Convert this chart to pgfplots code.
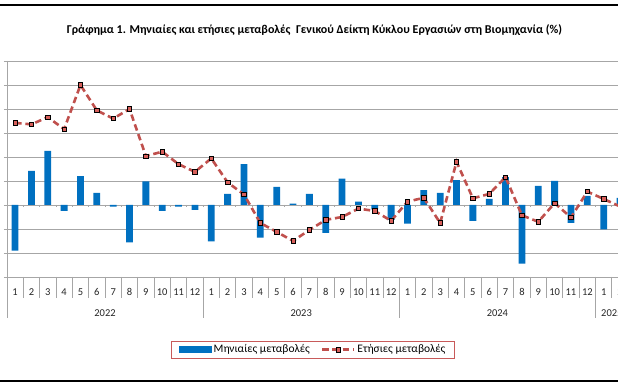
\documentclass[border=0pt]{standalone}
\usepackage{fontspec}
\setmainfont{Carlito}
\usepackage{pgfplots}
\pgfplotsset{compat=1.18}
\definecolor{barblue}{RGB}{0,112,192}
\definecolor{linered}{RGB}{192,80,77}
\definecolor{mkred}{RGB}{215,95,90}
\definecolor{gridgray}{RGB}{166,166,166}
\definecolor{legred}{RGB}{200,90,90}
\pgfplotsset{
  mybarlegend/.style={legend image code/.code={\fill[barblue] (0pt,-3.3pt) rectangle (33pt,3.3pt);}},
  mylinelegend/.style={legend image code/.code={\draw[##1, mark repeat=2, mark phase=2] plot coordinates {(0pt,0pt) (16pt,0pt) (32pt,0pt)};}},
}
\begin{document}
\begin{tikzpicture}[x=1pt,y=1pt]
\useasboundingbox (0,0) rectangle (618,387);
\clip (0,0) rectangle (618,387);
\fill[white] (0,0) rectangle (618,387);
\draw[black, line width=1.4pt] (0,382) -- (618,382);
\draw[black, line width=1.4pt] (0,6) -- (618,6);
\node[font=\bfseries\fontsize{12}{14}\selectfont] at (314.5,357.4) {Γράφημα 1. Μηνιαίες και ετήσιες μεταβολές~~Γενικού Δείκτη Κύκλου Εργασιών στη Βιομηχανία (\%)};
\begin{axis}[
  at={(6.9pt,110pt)}, anchor=south west,
  scale only axis, width=621.3pt, height=216pt,
  xmin=-0.5, xmax=37.5, ymin=-15, ymax=30,
  axis line style={draw=none},
  ytick={-15,-10,...,30}, yticklabels={},
  ytick pos=left, ytick style={gridgray, line width=0.8pt},
  tick align=outside, major tick length=3pt,
  ymajorgrids, grid style={gridgray, line width=0.8pt},
  xtick={0,...,37},
  xticklabels={1,2,3,4,5,6,7,8,9,10,11,12,1,2,3,4,5,6,7,8,9,10,11,12,1,2,3,4,5,6,7,8,9,10,11,12,1,2},
  xtick style={draw=none},
  xticklabel style={font=\fontsize{10.5}{12}\selectfont, anchor=center, text=black!85},
  xticklabel shift=12pt,
  clip=false,
  legend style={at={(0.4927,-0.3366)}, anchor=center, draw=legred, line width=0.8pt,
    legend columns=2, font=\fontsize{11.5}{13}\selectfont, inner xsep=7pt, inner ysep=1.8pt,
    /tikz/every even column/.append style={column sep=9pt}},
]
\draw[gridgray, line width=0.8pt] (axis description cs:0,1) -- (axis description cs:0,-0.19);
\pgfplotsinvokeforeach{0.5,1.5,...,37.5}{\draw[gridgray, line width=0.8pt] (axis cs:#1,-15) -- ++(0pt,-21pt);}
\pgfplotsinvokeforeach{11.5,23.5,35.5}{\draw[gridgray, line width=0.8pt] (axis cs:#1,-15) -- ++(0pt,-41pt);}
\pgfplotsinvokeforeach{0.5,1.5,...,37.5}{\draw[gridgray, line width=0.8pt] (axis cs:#1,0) -- ++(0pt,-2.5pt);}
\addplot[ybar, bar width=6.8pt, bar shift=0pt, fill=barblue, draw=none, mybarlegend]
coordinates {
(0,-9.5) (1,7.1) (2,11.25) (3,-1.2) (4,6.0) (5,2.5) (6,-0.35) (7,-7.8) (8,4.9) (9,-1.2) (10,-0.35) (11,-1.0)
(12,-7.6) (13,2.3) (14,8.5) (15,-6.8) (16,3.8) (17,0.3) (18,2.3) (19,-5.8) (20,5.5) (21,0.7) (22,-0.9) (23,-3.1)
(24,-3.9) (25,3.1) (26,2.5) (27,5.2) (28,-3.3) (29,1.25) (30,5.8) (31,-12.2) (32,4.0) (33,5.0) (34,-3.7) (35,1.9)
(36,-5.1) (37,1.5)
};
\addlegendentry{Μηνιαίες μεταβολές}
\addplot[linered, line width=2.6pt, dash pattern=on 6.5pt off 3.8pt,
  mark=square*, mark size=2.2pt, mark options={solid, fill=mkred, draw=black, line width=0.6pt},
  mylinelegend]
coordinates {
(0,17.1) (1,16.8) (2,18.3) (3,15.8) (4,25.0) (5,19.7) (6,18.0) (7,20.0) (8,10.2) (9,11.1) (10,8.5) (11,6.9)
(12,9.7) (13,4.7) (14,2.2) (15,-3.75) (16,-5.6) (17,-7.5) (18,-5.2) (19,-3.1) (20,-2.5) (21,-0.75) (22,-1.25) (23,-3.3)
(24,0.7) (25,1.5) (26,-3.75) (27,9.0) (28,1.4) (29,2.3) (30,5.8) (31,-2.15) (32,-3.5) (33,0.4) (34,-2.6) (35,2.8)
(36,1.25) (37,-0.3)
};
\addlegendentry{Ετήσιες μεταβολές}
\node[font=\fontsize{10.5}{12}\selectfont, text=black!85] at (axis cs:5.5,-15) [yshift=-36pt] {2022};
\node[font=\fontsize{10.5}{12}\selectfont, text=black!85] at (axis cs:17.5,-15) [yshift=-36pt] {2023};
\node[font=\fontsize{10.5}{12}\selectfont, text=black!85] at (axis cs:29.5,-15) [yshift=-36pt] {2024};
\node[font=\fontsize{10.5}{12}\selectfont, text=black!85] at (axis cs:36.5,-15) [yshift=-36pt] {2025};
\end{axis}
\end{tikzpicture}
\end{document}
